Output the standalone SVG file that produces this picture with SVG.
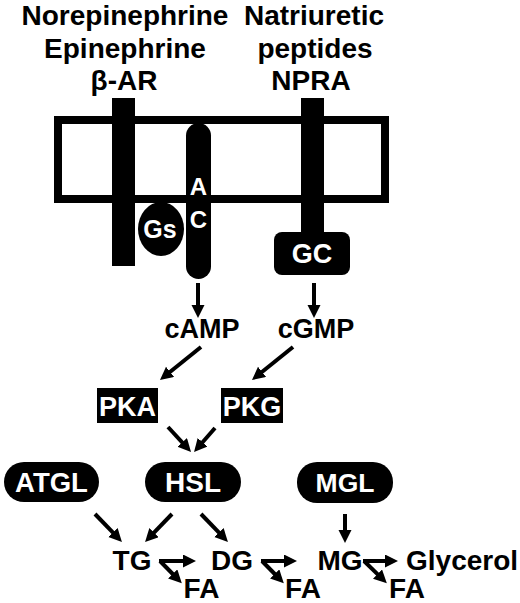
<svg xmlns="http://www.w3.org/2000/svg" width="520" height="603" viewBox="0 0 520 603">
<style>
text{font-family:"Liberation Sans",Arial,sans-serif;font-weight:bold;text-anchor:middle}
.t{font-size:28px;fill:#000}
.m{font-size:28px;fill:#000}
.w{fill:#fff;font-size:27px}
.blk{fill:#000}
.ln{stroke:#000;stroke-width:4;fill:none}
</style>
<defs>
<marker id="ah" markerUnits="userSpaceOnUse" markerWidth="14" markerHeight="14" refX="5" refY="6.5" orient="auto">
<path d="M0,0 L13,6.5 L0,13 z" fill="#000"/>
</marker>
</defs>
<rect width="520" height="603" fill="#fff"/>

<g id="labels">
<text class="t" x="125" y="25">Norepinephrine</text>
<text class="t" x="125" y="58">Epinephrine</text>
<text class="t" x="124" y="90">β-AR</text>
<text class="t" x="314" y="25">Natriuretic</text>
<text class="t" x="315" y="58">peptides</text>
<text class="t" x="311" y="90">NPRA</text>
</g>

<g id="membrane">
<rect x="58" y="120" width="327" height="79" fill="none" stroke="#000" stroke-width="8"/>
</g>

<g id="beta-AR">
<rect class="blk" x="112" y="98" width="23" height="168"/>
</g>

<g id="Gs">
<ellipse class="blk" cx="161" cy="229" rx="23" ry="27"/>
<text class="w" x="160" y="238" style="font-size:25px">Gs</text>
</g>

<g id="AC">
<rect class="blk" x="186" y="123" width="25" height="156" rx="12.5"/>
<text class="w" x="198.5" y="195" style="font-size:24px">A</text>
<text class="w" x="198.5" y="228" style="font-size:24px">C</text>
</g>

<g id="NPRA">
<rect class="blk" x="301" y="98" width="23" height="140"/>
<rect class="blk" x="274" y="232" width="76" height="43" rx="8"/>
<text class="w" x="312" y="263">GC</text>
</g>

<g id="cAMP"><text class="m" x="202" y="338" style="font-size:27px">cAMP</text></g>
<g id="cGMP"><text class="m" x="316" y="338" style="font-size:27px">cGMP</text></g>

<g id="PKA">
<rect class="blk" x="97" y="388" width="61" height="35"/>
<text class="w" x="127.5" y="416">PKA</text>
</g>
<g id="PKG">
<rect class="blk" x="221" y="388" width="62" height="35"/>
<text class="w" x="252" y="416">PKG</text>
</g>

<g id="ATGL">
<rect class="blk" x="4" y="462" width="95" height="40" rx="20"/>
<text class="w" x="51.5" y="492" style="font-size:27.5px">ATGL</text>
</g>
<g id="HSL">
<rect class="blk" x="145" y="462" width="96" height="40" rx="20"/>
<text class="w" x="193" y="492" style="font-size:28px">HSL</text>
</g>
<g id="MGL">
<rect class="blk" x="297" y="462" width="96" height="41" rx="20"/>
<text class="w" x="345" y="492" style="font-size:26.5px">MGL</text>
</g>

<g id="TG"><text class="m" x="132" y="570">TG</text></g>
<g id="DG"><text class="m" x="232" y="570">DG</text></g>
<g id="MG"><text class="m" x="340" y="570">MG</text></g>
<g id="Glycerol"><text class="m" x="406" y="570" style="text-anchor:start">Glycerol</text></g>
<g id="FA1"><text class="m" x="201.5" y="598">FA</text></g>
<g id="FA2"><text class="m" x="303" y="598">FA</text></g>
<g id="FA3"><text class="m" x="407" y="598">FA</text></g>

<g id="connectors">
<line class="ln" x1="198" y1="283" x2="198" y2="310" marker-end="url(#ah)"/>
<line class="ln" x1="314" y1="283" x2="314" y2="310" marker-end="url(#ah)"/>
<line class="ln" x1="201" y1="347" x2="166.2" y2="375" marker-end="url(#ah)"/>
<line class="ln" x1="293" y1="347" x2="258.2" y2="375" marker-end="url(#ah)"/>
<line class="ln" x1="168" y1="427" x2="185.6" y2="446.1" marker-end="url(#ah)"/>
<line class="ln" x1="215" y1="428" x2="199.3" y2="446" marker-end="url(#ah)"/>
<line class="ln" x1="95" y1="514" x2="116.4" y2="536.2" marker-end="url(#ah)"/>
<line class="ln" x1="172" y1="514" x2="150.6" y2="536.2" marker-end="url(#ah)"/>
<line class="ln" x1="201" y1="514" x2="222.4" y2="536.2" marker-end="url(#ah)"/>
<line class="ln" x1="345" y1="514" x2="345" y2="535" marker-end="url(#ah)"/>
<line class="ln" x1="159" y1="561" x2="188" y2="561" marker-end="url(#ah)"/>
<line class="ln" x1="160" y1="561" x2="176.2" y2="577.5" marker-end="url(#ah)"/>
<line class="ln" x1="261" y1="561" x2="289" y2="561" marker-end="url(#ah)"/>
<line class="ln" x1="262" y1="561" x2="278.2" y2="577.5" marker-end="url(#ah)"/>
<line class="ln" x1="363" y1="561" x2="390" y2="561" marker-end="url(#ah)"/>
<line class="ln" x1="364" y1="561" x2="381.1" y2="577.6" marker-end="url(#ah)"/>
</g>
</svg>
